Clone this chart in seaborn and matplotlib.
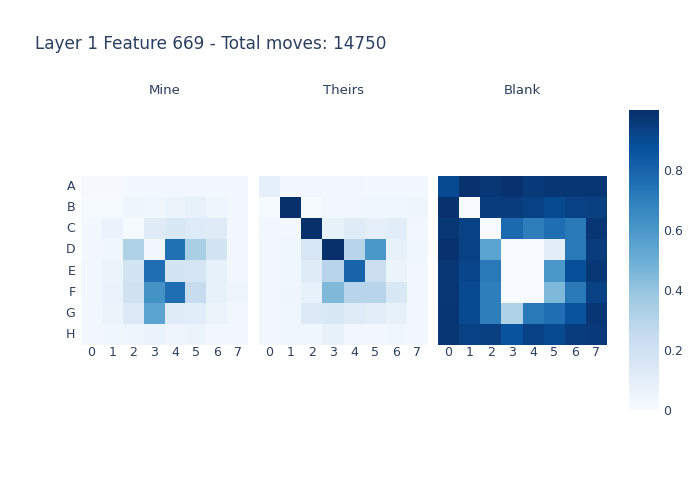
"""Layer feature activation heatmaps: Mine / Theirs / Blank."""

import numpy as np
import matplotlib as mpl
import matplotlib.pyplot as plt
import seaborn as sns

ROWS = ["A", "B", "C", "D", "E", "F", "G", "H"]
COLS = ["0", "1", "2", "3", "4", "5", "6", "7"]
PANELS = ["Mine", "Theirs", "Blank"]
TITLE = "Layer 1 Feature 669 - Total moves: 14750"

mine = [
    [0.015, 0.015, 0.02, 0.02, 0.03, 0.03, 0.02, 0.02],
    [0.01, 0.01, 0.05, 0.04, 0.06, 0.08, 0.05, 0.03],
    [0.02, 0.07, 0.01, 0.12, 0.15, 0.13, 0.12, 0.03],
    [0.02, 0.04, 0.32, 0.02, 0.75, 0.34, 0.18, 0.03],
    [0.03, 0.06, 0.18, 0.76, 0.18, 0.17, 0.08, 0.03],
    [0.03, 0.07, 0.20, 0.62, 0.76, 0.24, 0.08, 0.05],
    [0.02, 0.06, 0.14, 0.55, 0.12, 0.11, 0.06, 0.03],
    [0.02, 0.04, 0.05, 0.07, 0.05, 0.06, 0.03, 0.02],
]
theirs = [
    [0.09, 0.02, 0.03, 0.02, 0.03, 0.02, 0.02, 0.02],
    [0.01, 1.00, 0.01, 0.03, 0.03, 0.04, 0.04, 0.05],
    [0.03, 0.02, 1.00, 0.08, 0.12, 0.09, 0.11, 0.03],
    [0.02, 0.04, 0.16, 1.00, 0.30, 0.60, 0.08, 0.04],
    [0.02, 0.04, 0.12, 0.30, 0.80, 0.22, 0.06, 0.03],
    [0.02, 0.05, 0.08, 0.45, 0.30, 0.30, 0.15, 0.03],
    [0.02, 0.04, 0.14, 0.15, 0.12, 0.10, 0.08, 0.02],
    [0.02, 0.04, 0.04, 0.08, 0.03, 0.03, 0.04, 0.02],
]
blank = [
    [0.90, 0.99, 0.97, 0.99, 0.96, 0.98, 0.98, 0.98],
    [0.99, 0.00, 0.95, 0.95, 0.93, 0.90, 0.93, 0.94],
    [0.97, 0.93, 0.00, 0.78, 0.70, 0.76, 0.72, 0.98],
    [0.99, 0.93, 0.55, 0.00, 0.00, 0.10, 0.72, 0.95],
    [0.97, 0.92, 0.72, 0.00, 0.00, 0.60, 0.88, 0.97],
    [0.97, 0.90, 0.70, 0.00, 0.00, 0.45, 0.72, 0.93],
    [0.98, 0.90, 0.70, 0.32, 0.72, 0.76, 0.87, 0.98],
    [0.98, 0.93, 0.94, 0.87, 0.93, 0.90, 0.95, 0.96],
]
CBAR_TICKS = [0, 0.2, 0.4, 0.6, 0.8]
CBAR_LABELS = ["0", "0.2", "0.4", "0.6", "0.8"]

TEXT = "#2a3f5f"

sns.set_theme(style="white")
plt.rcParams["font.family"] = ["DejaVu Sans"]

W, H = 700, 500
fig = plt.figure(figsize=(7, 5), dpi=100)


def px_axes(x0, y0, x1, y1):
    # pixel box (top-left origin) → figure axes
    return fig.add_axes([x0 / W, 1 - y1 / H, (x1 - x0) / W, (y1 - y0) / H])


boxes = [(81, 176, 248, 345), (259, 176, 428, 345), (438, 176, 607, 345)]
cmap = mpl.colormaps["Blues"]

for i, (name, data, box) in enumerate(zip(PANELS, [mine, theirs, blank], boxes)):
    ax = px_axes(*box)
    sns.heatmap(np.array(data), ax=ax, cmap=cmap, vmin=0, vmax=1, cbar=False,
                xticklabels=COLS, yticklabels=ROWS if i == 0 else False)
    ax.tick_params(axis="x", length=0, labelsize=9, colors=TEXT, pad=1)
    ax.tick_params(axis="y", length=0, labelsize=9, colors=TEXT, pad=4)
    if i == 0:
        ax.set_yticklabels(ROWS, rotation=0)
    fig.text((box[0] + box[2]) / 2 / W, 1 - 91 / H, name,
             ha="center", va="center", fontsize=9.5, color=TEXT)

cax = px_axes(629, 110, 659, 410)
norm = mpl.colors.Normalize(vmin=0, vmax=1)
cb = fig.colorbar(mpl.cm.ScalarMappable(norm=norm, cmap=cmap), cax=cax)
cb.outline.set_visible(False)
cb.set_ticks(CBAR_TICKS)
cb.set_ticklabels(CBAR_LABELS)
cax.tick_params(length=0, labelsize=9, colors=TEXT, pad=3)

fig.text(35 / W, 1 - 44 / H, TITLE, ha="left", va="center",
         fontsize=12.2, color=TEXT)

fig.savefig("out.png", dpi=100)
